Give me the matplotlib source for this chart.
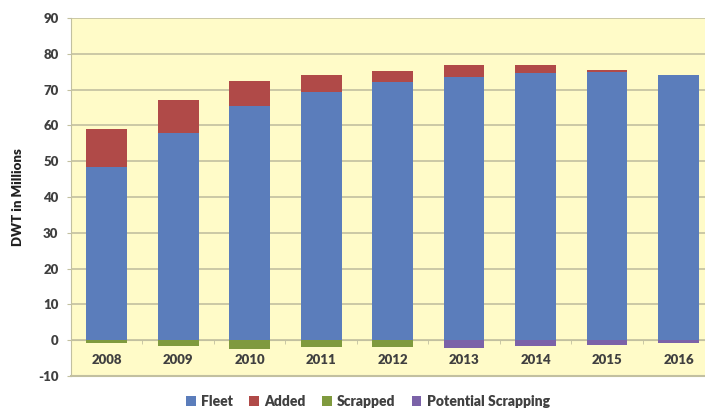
import matplotlib.pyplot as plt
import numpy as np

years = ['2008', '2009', '2010', '2011', '2012', '2013', '2014', '2015', '2016']
fleet = [48.3, 57.8, 65.4, 69.3, 72.0, 73.4, 74.7, 75.0, 74.1]
added = [10.6, 9.2, 6.9, 4.8, 3.3, 3.4, 2.1, 0.6, 0.0]
scrapped = [-0.8, -1.7, -2.5, -1.8, -1.9, 0.0, 0.0, 0.0, 0.0]
potential = [0.0, 0.0, 0.0, 0.0, 0.0, -2.2, -1.7, -1.3, -0.8]

c_fleet = '#5b7dbb'
c_added = '#b04a48'
c_scrap = '#7f9a3e'
c_pot = '#7b62a8'
txt = '#404040'
gridc = '#c2c0a0'

plt.rcParams['font.family'] = ['Lato', 'DejaVu Sans']
plt.rcParams['axes.unicode_minus'] = False

fig = plt.figure(figsize=(7.05, 4.09), dpi=100)
ax = fig.add_axes([0.1007, 0.0807, 0.8993, 0.8753])
ax.set_facecolor('#fffbc8')

x = np.arange(len(years))
w = 0.57
ax.bar(x, fleet, w, color=c_fleet, label='Fleet', zorder=3)
ax.bar(x, added, w, bottom=fleet, color=c_added, label='Added', zorder=3)
ax.bar(x, scrapped, w, color=c_scrap, label='Scrapped', zorder=3)
ax.bar(x, potential, w, color=c_pot, label='Potential Scrapping', zorder=3)

ax.set_ylim(-10, 90)
ax.set_xlim(-0.5, 8.37)
ax.set_yticks(range(-10, 91, 10))
ax.yaxis.grid(True, color=gridc, linewidth=1.2, zorder=0)
ax.set_axisbelow(True)

ax.spines['top'].set_visible(False)
ax.spines['right'].set_visible(False)
ax.spines['left'].set_color(gridc)
ax.spines['bottom'].set_position(('data', 0))
ax.spines['bottom'].set_color(gridc)
ax.axhline(-10, color=gridc, linewidth=1.5, zorder=1, clip_on=False)

ax.set_xticks(x)
ax.set_xticklabels(years, fontsize=9.5, fontweight='heavy', color=txt)
ax.set_xticks(x[:-1] + 0.5, minor=True)
ax.tick_params(axis='x', which='major', length=0, pad=10)
ax.tick_params(axis='x', which='minor', length=3, color=gridc, direction='out')
ax.tick_params(axis='y', length=3, color=gridc, pad=6, labelsize=9.5, labelcolor=txt)
for lab in ax.get_yticklabels():
    lab.set_fontweight('heavy')

ax.set_ylabel('DWT in Millions', fontsize=9.5, fontweight='heavy', color='#202020', labelpad=10)

fig.legend(loc='center', bbox_to_anchor=(0.522, 0.018), ncol=4, frameon=False,
           handlelength=0.7, handleheight=0.7, handletextpad=0.4, columnspacing=1.15,
           prop={'weight': 'heavy', 'size': 10})
for t in fig.legends[0].get_texts():
    t.set_color(txt)

fig.savefig('out.png', dpi=100)
